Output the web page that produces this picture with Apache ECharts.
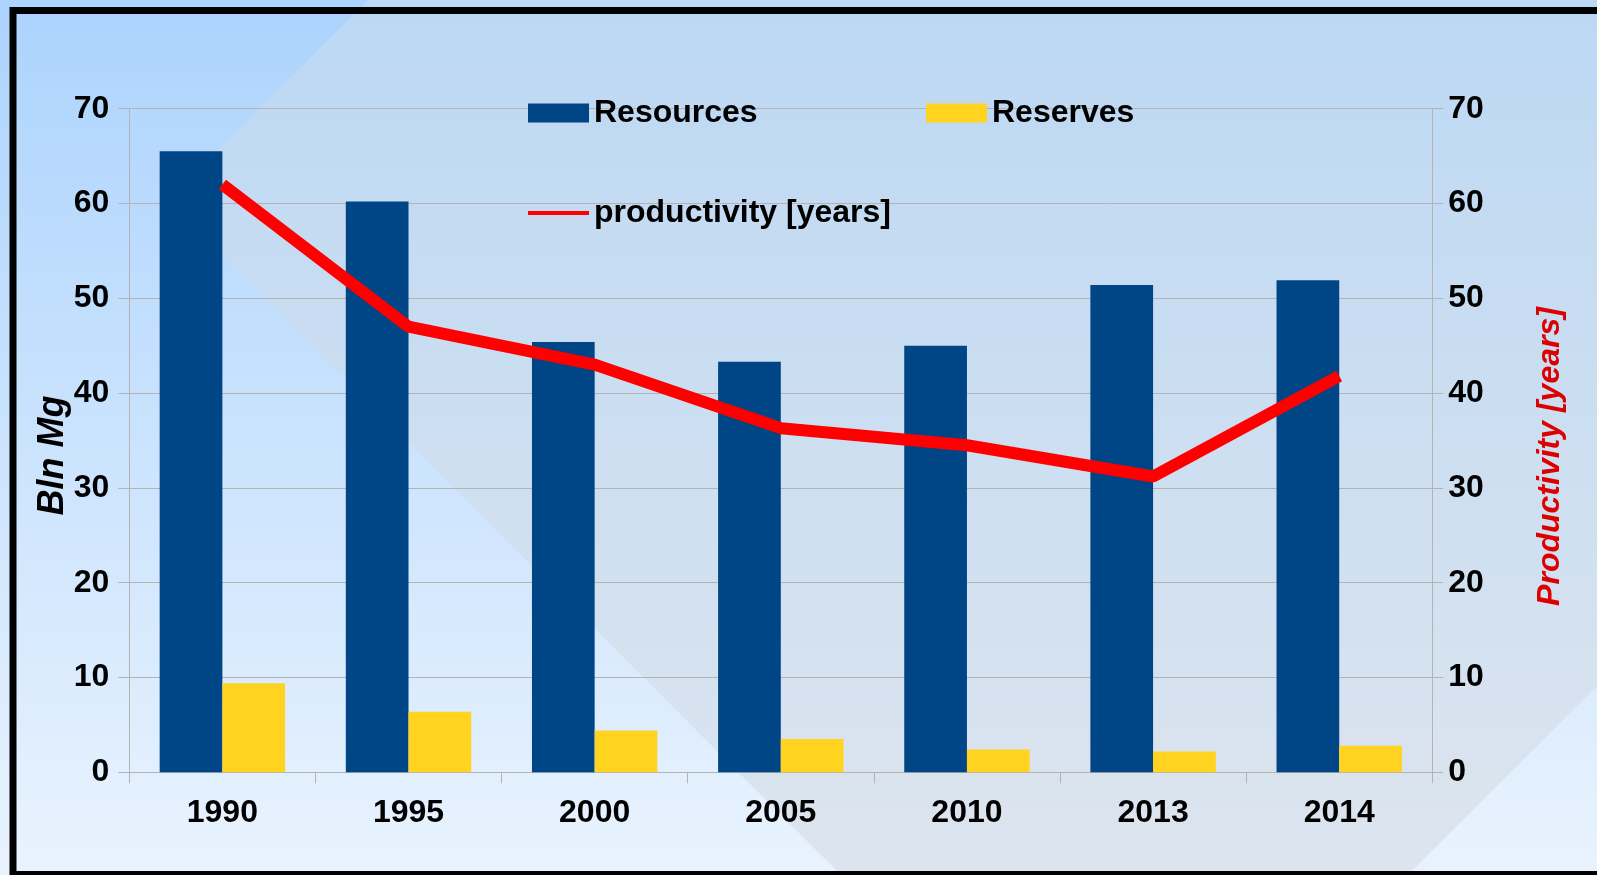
<!DOCTYPE html>
<html>
<head>
<meta charset="utf-8">
<style>
  html, body { margin: 0; padding: 0; background: #b6d8f8; }
  #chart { width: 1597px; height: 875px; }
</style>
<script src="https://cdn.jsdelivr.net/npm/echarts@6/dist/echarts.min.js"></script>
</head>
<body>
<div id="chart"></div>
<script>
// Years on the category axis
const categories = ['1990', '1995', '2000', '2005', '2010', '2013', '2014'];
// Resources, billion Mg
const resources = [65.5, 60.2, 45.4, 43.3, 45.0, 51.4, 51.9];
// Reserves, billion Mg
const reserves = [9.4, 6.4, 4.4, 3.5, 2.4, 2.2, 2.8];
// Productivity, years
const productivity = [62.0, 47.0, 43.0, 36.3, 34.5, 31.2, 41.8];
// Shared value-axis range
const axisMin = 0, axisMax = 70, axisStep = 10;

const W = 1597, H = 875;
const FONT = "'Liberation Sans', Arial, sans-serif";
const GRID = { left: 129.3, right: W - 1432.3, top: 108.7, bottom: H - 772.3 };
const gray = '#b3b3b3';

const chart = echarts.init(document.getElementById('chart'), null, { renderer: 'canvas' });

const labelStyle = { color: '#000', fontFamily: FONT, fontWeight: 'bold', fontSize: 32 };

function valueAxis(pos, extra) {
  return Object.assign({
    type: 'value',
    position: pos,
    min: axisMin, max: axisMax, interval: axisStep,
    axisLine: { show: true, lineStyle: { color: gray, width: 1 } },
    axisTick: { show: true, length: 11, lineStyle: { color: gray } },
    axisLabel: Object.assign({ margin: pos === 'left' ? 20 : 16 }, labelStyle),
    splitLine: { show: pos === 'left', lineStyle: { color: gray, width: 1 } }
  }, extra);
}

chart.setOption({
  backgroundColor: 'transparent',
  animation: false,
  graphic: {
    elements: [
      // page background
      {
        type: 'rect', z: -100, silent: true,
        shape: { x: 0, y: 0, width: W, height: H },
        style: { fill: new echarts.graphic.LinearGradient(0, 0, 0, 1, [
          { offset: 0, color: '#acd3fd' }, { offset: 1, color: '#e9f3fe' }
        ]) }
      },
      // diagonal slate band
      {
        type: 'polygon', z: -99, silent: true,
        shape: { points: [[167, 201], [368, 0], [W, 0], [W, 686], [1408, H], [841, H]] },
        style: { fill: new echarts.graphic.LinearGradient(0, 0, 0, 1, [
          { offset: 0, color: '#bcd8f4' }, { offset: 1, color: '#dde5ee' }
        ]) }
      },
      // frame
      {
        type: 'rect', z: -98, silent: true,
        shape: { x: 13, y: 10.5, width: W + 40, height: 864 },
        style: { fill: null, stroke: '#000', lineWidth: 7 }
      }
    ]
  },
  grid: GRID,
  legend: [
    {
      data: ['Resources'],
      left: 523, top: 92,
      icon: 'rect', itemWidth: 61, itemHeight: 19,
      textStyle: labelStyle
    },
    {
      data: ['Reserves'],
      left: 921, top: 92,
      icon: 'rect', itemWidth: 61, itemHeight: 19,
      textStyle: labelStyle
    },
    {
      data: ['productivity [years]'],
      left: 523, top: 192,
      icon: 'rect', itemWidth: 61, itemHeight: 4,
      textStyle: labelStyle
    }
  ],
  xAxis: {
    type: 'category',
    data: categories,
    axisLine: { show: true, lineStyle: { color: gray, width: 1 } },
    axisTick: { show: true, length: 11, alignWithLabel: false, lineStyle: { color: gray } },
    axisLabel: Object.assign({ margin: 25 }, labelStyle),
    splitLine: { show: false }
  },
  yAxis: [
    valueAxis('left', {
      name: 'Bln Mg',
      nameLocation: 'middle',
      nameRotate: 90,
      nameGap: 58,
      nameMoveOverlap: false,
      nameTextStyle: { color: '#000', fontFamily: FONT, fontWeight: 'bold', fontStyle: 'italic', fontSize: 36, padding: [0, 30, 0, 0] }
    }),
    valueAxis('right', {
      name: 'Productivity [years]',
      nameLocation: 'middle',
      nameRotate: 90,
      nameGap: 102,
      nameTextStyle: { color: '#dd0000', fontFamily: FONT, fontWeight: 'bold', fontStyle: 'italic', fontSize: 32, padding: [0, 32, 0, 0] }
    })
  ],
  series: [
    {
      name: 'Resources', type: 'bar', yAxisIndex: 0,
      data: resources, barWidth: 62.7, barGap: '0%',
      itemStyle: { color: '#004586' }
    },
    {
      name: 'Reserves', type: 'bar', yAxisIndex: 0,
      data: reserves, barWidth: 62.7, barGap: '0%',
      itemStyle: { color: '#ffd320' }
    },
    {
      name: 'productivity [years]', type: 'line', yAxisIndex: 1,
      data: productivity, symbol: 'none',
      itemStyle: { color: '#ff0000' },
      lineStyle: { color: '#ff0000', width: 12 },
      z: 5
    }
  ]
});
</script>
</body>
</html>
